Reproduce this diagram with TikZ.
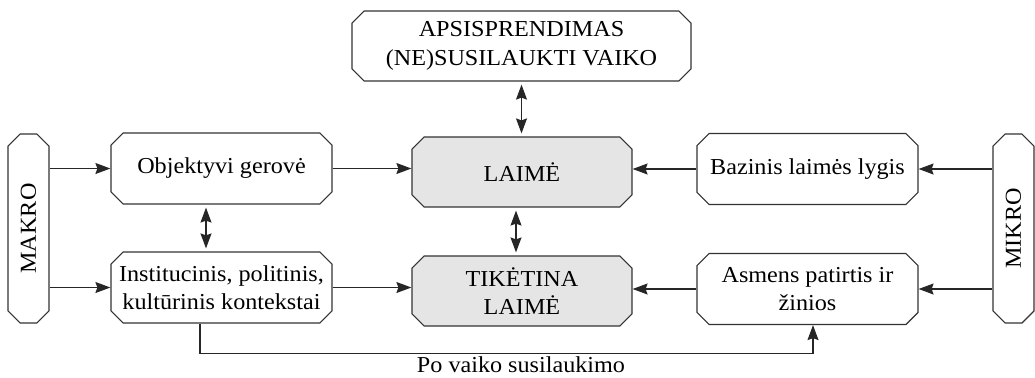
\documentclass[tikz,border=0pt]{standalone}
\usepackage{fontspec}
\setmainfont{Liberation Serif}[FakeStretch=1.06]
\usetikzlibrary{shapes.misc,arrows.meta}

\begin{document}
\begin{tikzpicture}[x=0.5pt,y=-0.5pt,
		box/.style={draw=black!80,line width=0.6pt,chamfered rectangle,chamfered rectangle xsep=3pt,align=center,inner sep=1pt,minimum width=110.5pt,minimum height=35.5pt,font=\fontsize{11.4}{14.3}\selectfont},
		mid/.style={box,fill=black!10,minimum width=110pt,minimum height=35pt},
		side/.style={box,rotate=90,minimum width=94.5pt,minimum height=20.5pt},
		arr/.style={draw=black!85,line width=0.6pt,-{Stealth[length=7.5pt,width=5.5pt,inset=1pt]}},
		dbl/.style={arr,{Stealth[length=7.5pt,width=5.5pt,inset=1pt]}-{Stealth[length=7.5pt,width=5.5pt,inset=1pt]},shorten <=1.5pt,shorten >=1.5pt}]
				\useasboundingbox (0,0) rectangle (1035,377);
				\node[box,minimum width=169.5pt,minimum height=35pt] (ne) at (521.5,46) {APSISPRENDIMAS\\(NE)SUSILAUKTI VAIKO};
				\node[mid] (laime) at (522,172) {LAIMĖ};
				\node[mid] (tiketina) at (522,291) {TIKĖTINA\\LAIMĖ};
				\node[box] (objektyvi) at (221.5,168.5) {Objektyvi gerovė};
				\node[box] (kontekstai) at (221.5,287.5) {Institucinis, politinis,\\kultūrinis kontekstai};
				\node[box] (bazinis) at (807.5,169) {Bazinis laimės lygis};
				\node[box] (patirtis) at (807.5,289) {Asmens patirtis ir\\žinios};
				\node[side] (makro) at (28.5,228.5) {MAKRO};
				\node[side] (mikro) at (1013.5,228.5) {MIKRO};
				\node[inner sep=0pt,font=\fontsize{11.4}{14.3}\selectfont] (po) at (521,365) {Po vaiko susilaukimo};
				\draw[arr] (objektyvi.west -| makro.south) to (objektyvi.west);
				\draw[arr] (kontekstai.west -| makro.south) to (kontekstai.west);
				\draw[arr] (objektyvi.east) to (objektyvi.east -| laime.west);
				\draw[arr] (kontekstai.east) to (kontekstai.east -| tiketina.west);
				\draw[arr] (bazinis.west) to (bazinis.west -| laime.east);
				\draw[arr] (patirtis.west) to (patirtis.west -| tiketina.east);
				\draw[arr] (bazinis.east -| mikro.north) to (bazinis.east);
				\draw[arr] (patirtis.east -| mikro.north) to (patirtis.east);
				\draw[dbl] (ne.south) to (ne.south |- laime.north);
				\draw[dbl] ([xshift=-3pt]laime.south) to ([xshift=-3pt]tiketina.north);
				\draw[dbl] ([xshift=-7.75pt]objektyvi.south) to ([xshift=-7.75pt]kontekstai.north);
				\draw[arr] ([xshift=-10.75pt]kontekstai.south) -- ++(0,30) -| ([xshift=2.75pt]patirtis.south);
			\end{tikzpicture}
\end{document}
